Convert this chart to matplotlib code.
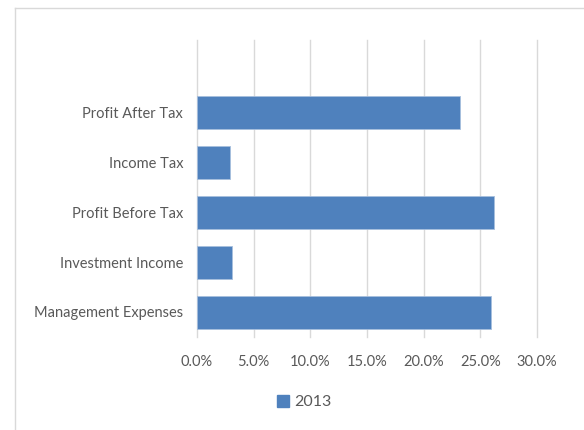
import matplotlib
matplotlib.use("Agg")
import matplotlib.pyplot as plt
from matplotlib.lines import Line2D
from matplotlib.patches import Patch
from matplotlib.ticker import FuncFormatter

categories = ["Management Expenses", "Investment Income", "Profit Before Tax", "Income Tax", "Profit After Tax"]
values_2013 = [0.259, 0.0306, 0.262, 0.0294, 0.232]
series_name = "2013"

bar_color = "#4F81BD"
text_color = "#595959"
grid_color = "#D9D9D9"

plt.rcParams["font.family"] = ["Lato", "DejaVu Sans"]

fig = plt.figure(figsize=(5.84, 4.30), dpi=100)
ax = fig.add_axes([197 / 584, 1 - 337 / 430, 340 / 584, 297 / 430])

ypos = list(range(len(categories)))
ax.barh(ypos, values_2013, height=0.66, color=bar_color, edgecolor="#A7BFDE", linewidth=0.6, zorder=3)

ax.set_xlim(0, 0.30)
ax.set_ylim(-0.5, 5.44)
ax.set_xticks([0, 0.05, 0.10, 0.15, 0.20, 0.25, 0.30])
ax.xaxis.set_major_formatter(FuncFormatter(lambda v, _: f"{v * 100:.1f}%"))
ax.set_yticks(ypos)
ax.set_yticklabels(categories)
ax.tick_params(axis="both", length=0, labelsize=10.5, colors=text_color)
ax.tick_params(axis="y", pad=10)
ax.tick_params(axis="x", pad=13)
ax.grid(axis="x", color=grid_color, linewidth=1.0, zorder=0)
for gl in ax.xaxis.get_gridlines():
    gl.set_clip_on(False)
for s in ax.spines.values():
    s.set_visible(False)

handles = [Patch(facecolor=bar_color, edgecolor=bar_color, label=series_name)]
fig.legend(handles=handles, loc="center", bbox_to_anchor=(304 / 584, 1 - 402 / 430), frameon=False,
           fontsize=11.5, labelcolor=text_color, handlelength=0.8, handleheight=0.8, handletextpad=0.3)

# outer chart border (partially visible in the crop)
fig.add_artist(Line2D([15 / 584, 15 / 584], [0, 1 - 8 / 430], color="#D9D9D9", linewidth=1.0, transform=fig.transFigure))
fig.add_artist(Line2D([15 / 584, 1], [1 - 8 / 430, 1 - 8 / 430], color="#D9D9D9", linewidth=1.0, transform=fig.transFigure))

fig.savefig("out.png", dpi=100)
